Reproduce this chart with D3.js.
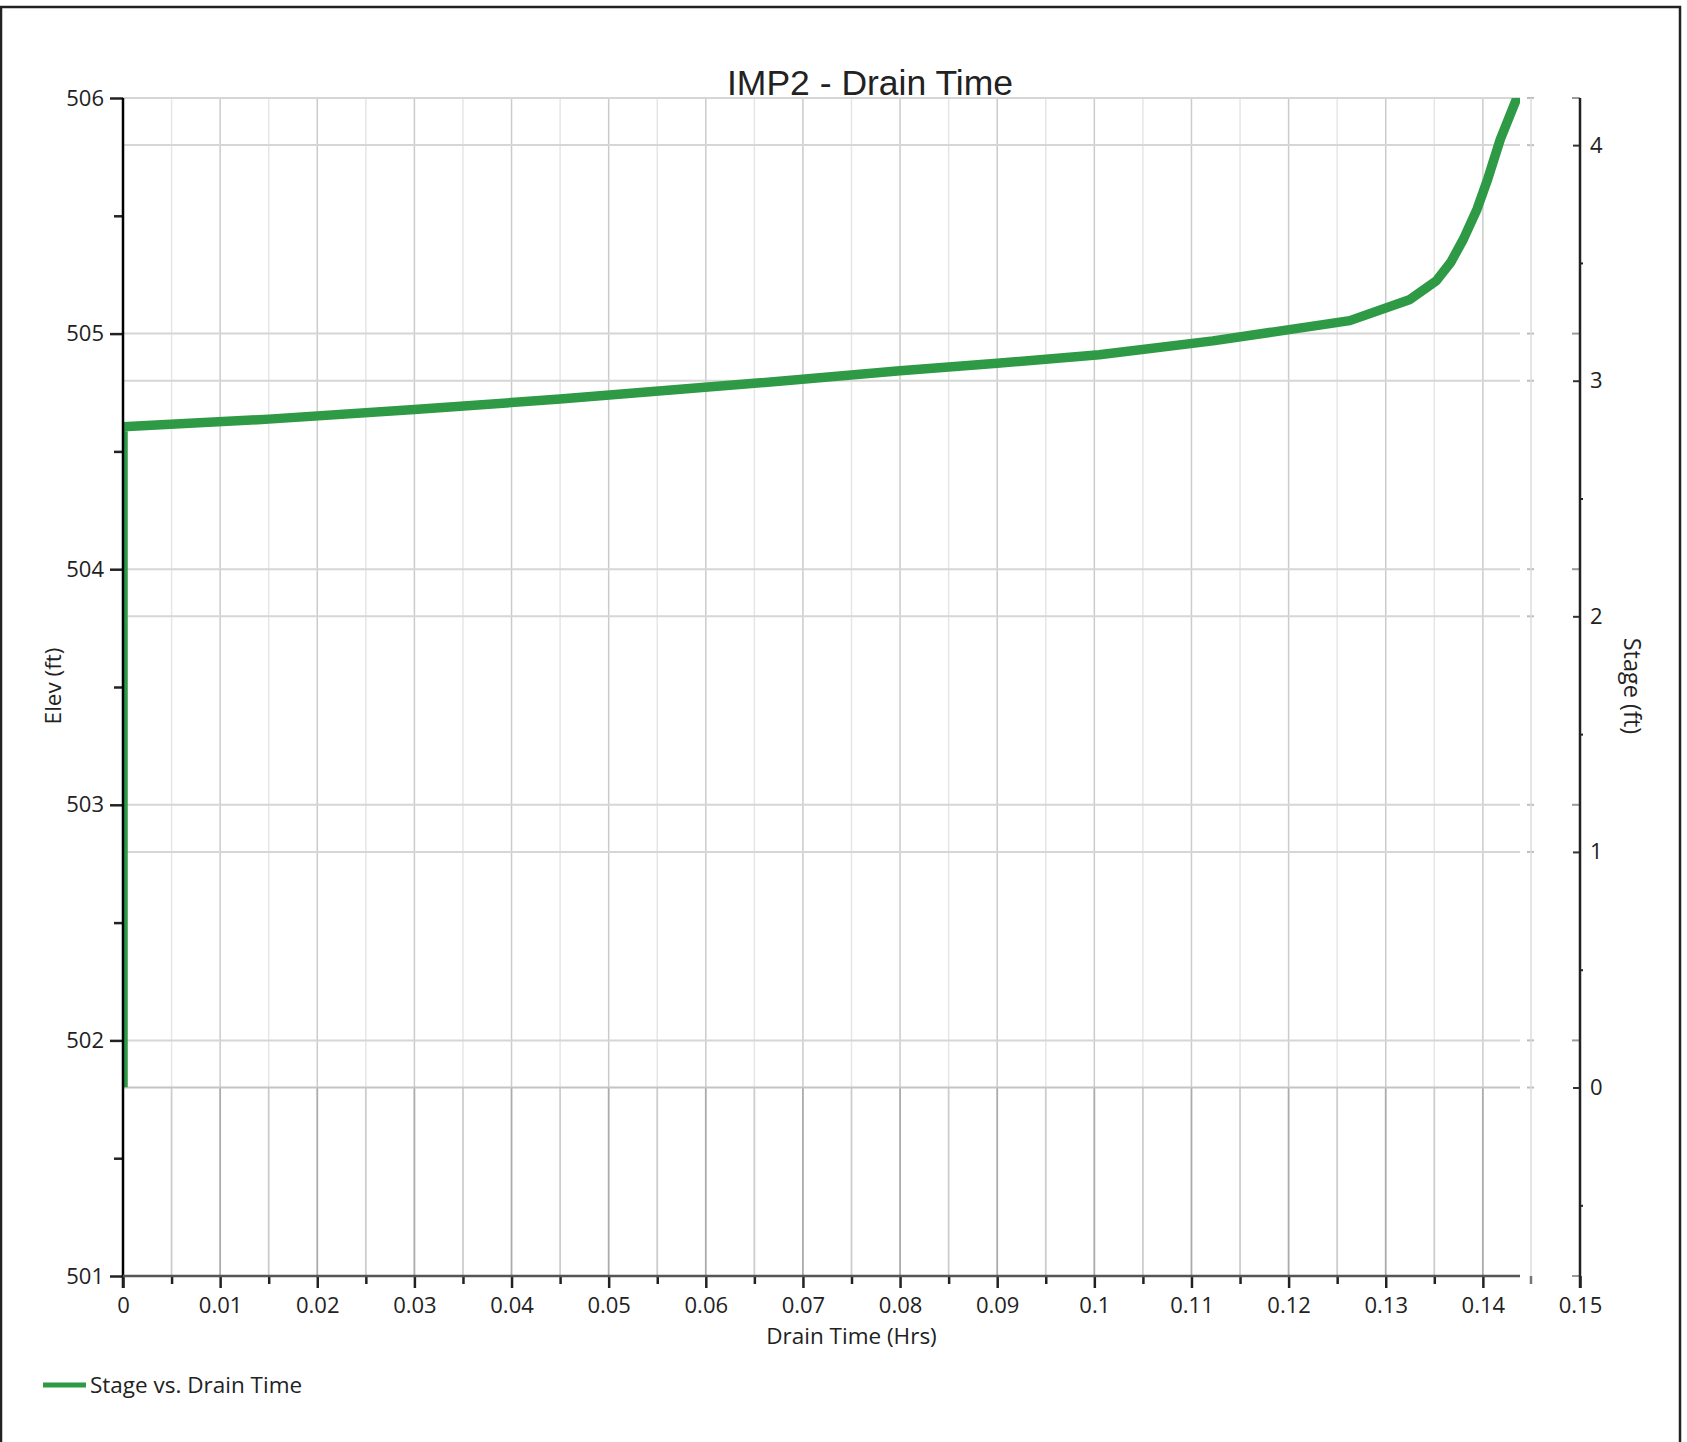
<!DOCTYPE html>
<html>
<head>
<meta charset="utf-8">
<script src="https://cdn.jsdelivr.net/npm/d3@7/dist/d3.min.js"></script>
<style>
  html, body { margin: 0; padding: 0; background: #fff; }
  svg { display: block; }
  text { font-family: "Segoe UI", "Open Sans", "Noto Sans", sans-serif; fill: #222; }
</style>
</head>
<body>
<svg id="chart" width="1687" height="1442"></svg>
<script>
// Drain curve: time since start of drawdown (hrs) and stage in the IMP (ft)
const drainTime = [0, 0, 0.015, 0.03, 0.045, 0.065, 0.08, 0.09, 0.1005, 0.1122, 0.1263, 0.1325, 0.1352, 0.1367, 0.138, 0.1394, 0.1405, 0.1418, 0.1436];
const stageFt   = [0, 2.805, 2.837, 2.878, 2.922, 2.989, 3.042, 3.074, 3.11, 3.169, 3.255, 3.345, 3.424, 3.503, 3.601, 3.728, 3.856, 4.025, 4.21];

// Elevation of stage 0 (ft)
const baseElev = 501.8;

// Axis ticks
const elevTicks = [501, 502, 503, 504, 505, 506];
const elevMinorTicks = [501.5, 502.5, 503.5, 504.5, 505.5];
const stageTicks = [0, 1, 2, 3, 4];
const stageMinorTicks = [-0.5, 0.5, 1.5, 2.5, 3.5];
const timeTicks = [0, 0.01, 0.02, 0.03, 0.04, 0.05, 0.06, 0.07, 0.08, 0.09, 0.1, 0.11, 0.12, 0.13, 0.14, 0.15];
const timeMinorTicks = [0.005, 0.015, 0.025, 0.035, 0.045, 0.055, 0.065, 0.075, 0.085, 0.095, 0.105, 0.115, 0.125, 0.135];

const seriesName = "Stage vs. Drain Time";
const chartTitle = "IMP2 - Drain Time";

const svg = d3.select("#chart");

const L = 123, R = 1580, T = 98, B = 1276;
const plotRight = 1520;   // end of data area
const sideLine = 1531;    // faint boundary of the data area

const x = d3.scaleLinear().domain([0, 0.15]).range([L, R]);
const yElev = d3.scaleLinear().domain([501, 506]).range([B, T]);
const yStage = d3.scaleLinear().domain([501 - baseElev, 506 - baseElev]).range([B, T]);
const stageZeroY = yStage(0);

// outer frame
svg.append("rect").attr("x", 1).attr("y", 7).attr("width", 1679).attr("height", 1460)
  .attr("fill", "none").attr("stroke", "#222").attr("stroke-width", 2.5);

// title
svg.append("text").attr("x", 870).attr("y", 95).attr("text-anchor", "middle")
  .style("font-family", "'Liberation Sans', Arial, sans-serif")
  .style("font-size", "35.5px").text(chartTitle);

const grid = svg.append("g");
const allT = timeTicks.slice(1, 15).concat(timeMinorTicks);

// upper panel vertical grid
grid.selectAll("line.vu").data(allT).join("line")
  .attr("x1", d => x(d)).attr("x2", d => x(d))
  .attr("y1", T).attr("y2", stageZeroY)
  .attr("stroke", d => timeMinorTicks.includes(d) ? "#e6e6e6" : "#cbcbcb")
  .attr("stroke-width", 1.5);

// lower panel vertical grid
grid.selectAll("line.vl").data(allT).join("line")
  .attr("x1", d => x(d)).attr("x2", d => x(d))
  .attr("y1", stageZeroY).attr("y2", B)
  .attr("stroke", d => timeMinorTicks.includes(d) ? "#cdcdcd" : "#ababab")
  .attr("stroke-width", 1.8);

// horizontal grid (elevation and stage)
const hLines = elevTicks.slice(1).map(e => yElev(e)).concat(stageTicks.map(s => yStage(s)));
grid.selectAll("line.h").data(hLines).join("line")
  .attr("x1", L).attr("x2", plotRight)
  .attr("y1", d => d).attr("y2", d => d)
  .attr("stroke", (d, i) => i === hLines.length - 5 ? "#c4c4c4" : "#d6d6d6")
  .attr("stroke-width", 2);
// small marks at the data area edge
grid.selectAll("line.hm").data(hLines).join("line")
  .attr("x1", sideLine - 4).attr("x2", sideLine + 3)
  .attr("y1", d => d).attr("y2", d => d)
  .attr("stroke", "#bdbdbd").attr("stroke-width", 2);
grid.append("line").attr("x1", sideLine).attr("x2", sideLine).attr("y1", T).attr("y2", B)
  .attr("stroke", "#dcdcdc").attr("stroke-width", 1.5);
grid.append("line").attr("x1", sideLine).attr("x2", sideLine).attr("y1", B).attr("y2", B + 8)
  .attr("stroke", "#777").attr("stroke-width", 2.5);

// series
svg.append("clipPath").attr("id", "plotClip").append("rect")
  .attr("x", L).attr("y", T).attr("width", plotRight - L).attr("height", stageZeroY - T);
const line = d3.line().x(d => x(d[0])).y(d => yStage(d[1]));
svg.append("path")
  .datum(drainTime.map((t, i) => [t, stageFt[i]]))
  .attr("clip-path", "url(#plotClip)")
  .attr("d", line)
  .attr("fill", "none").attr("stroke", "#2e9a45").attr("stroke-width", 9.5)
  .attr("stroke-linejoin", "round");

const tickFont = "22px";

// left axis (elevation)
const leftAxis = svg.append("g").attr("transform", `translate(${L},0)`)
  .call(d3.axisLeft(yElev).tickValues(elevTicks).tickSize(13).tickPadding(6).tickFormat(d3.format("d")));
leftAxis.select(".domain").remove();
leftAxis.selectAll(".tick line").attr("stroke", "#222").attr("stroke-width", 2.5);
leftAxis.selectAll("text").style("font-size", tickFont).style("font-family", null);
const leftMinor = svg.append("g").attr("transform", `translate(${L},0)`)
  .call(d3.axisLeft(yElev).tickValues(elevMinorTicks).tickSize(9).tickFormat(""));
leftMinor.select(".domain").remove();
leftMinor.selectAll(".tick line").attr("stroke", "#222").attr("stroke-width", 2.5);
svg.append("line").attr("x1", L).attr("x2", L).attr("y1", T).attr("y2", B + 12)
  .attr("stroke", "#000").attr("stroke-width", 2.5);

// bottom axis (time)
const bottomAxis = svg.append("g").attr("transform", `translate(0,${B})`)
  .call(d3.axisBottom(x).tickValues(timeTicks).tickSize(12).tickPadding(9).tickFormat(d3.format("~f")));
bottomAxis.select(".domain").remove();
bottomAxis.selectAll(".tick line").attr("stroke", "#222").attr("stroke-width", 2.5);
bottomAxis.selectAll("text").style("font-size", tickFont).style("font-family", null);
const bottomMinor = svg.append("g").attr("transform", `translate(0,${B})`)
  .call(d3.axisBottom(x).tickValues(timeMinorTicks).tickSize(8).tickFormat(""));
bottomMinor.select(".domain").remove();
bottomMinor.selectAll(".tick line").attr("stroke", "#222").attr("stroke-width", 2.5);
svg.append("line").attr("x1", L).attr("x2", plotRight).attr("y1", B).attr("y2", B)
  .attr("stroke", "#555").attr("stroke-width", 2.5);

// right axis (stage)
svg.append("g").selectAll("line").data(elevTicks.map(e => yElev(e))).join("line")
  .attr("x1", R - 8).attr("x2", R).attr("y1", d => d).attr("y2", d => d)
  .attr("stroke", "#9a9a9a").attr("stroke-width", 2);
const rightAxis = svg.append("g").attr("transform", `translate(${R},0)`)
  .call(d3.axisRight(yStage).tickValues(stageTicks).tickSizeInner(-7).tickSizeOuter(0).tickPadding(10).tickFormat(d3.format("d")));
rightAxis.select(".domain").remove();
rightAxis.selectAll(".tick line").attr("stroke", "#333").attr("stroke-width", 2);
rightAxis.selectAll("text").style("font-size", tickFont).style("font-family", null);
const rightMinor = svg.append("g").attr("transform", `translate(${R},0)`)
  .call(d3.axisRight(yStage).tickValues(stageMinorTicks).tickSize(3).tickFormat(""));
rightMinor.select(".domain").remove();
rightMinor.selectAll(".tick line").attr("stroke", "#222").attr("stroke-width", 2);
svg.append("line").attr("x1", R).attr("x2", R).attr("y1", T).attr("y2", B + 12)
  .attr("stroke", "#222").attr("stroke-width", 2.5);

// axis titles
svg.append("text").attr("x", (L + R) / 2).attr("y", 1344).attr("text-anchor", "middle")
  .style("font-size", "22.5px").text("Drain Time (Hrs)");
svg.append("text").attr("transform", `translate(61,686) rotate(-90)`).attr("text-anchor", "middle")
  .style("font-size", "22.5px").text("Elev (ft)");
svg.append("text").attr("transform", `translate(1624,686) rotate(90)`).attr("text-anchor", "middle")
  .style("font-size", "23.5px").text("Stage (ft)");

// legend
svg.append("line").attr("x1", 43).attr("x2", 86).attr("y1", 1385).attr("y2", 1385)
  .attr("stroke", "#2e9a45").attr("stroke-width", 5);
svg.append("text").attr("x", 90).attr("y", 1393).style("font-size", "22.5px").text(seriesName);
</script>
</body>
</html>
